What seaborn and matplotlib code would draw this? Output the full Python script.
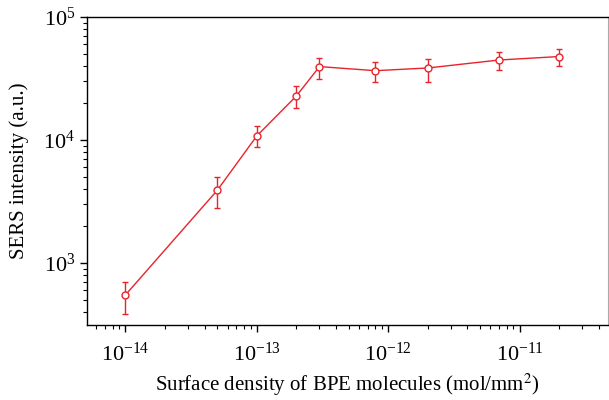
# SERS intensity vs surface density of BPE molecules (log-log)

import matplotlib
matplotlib.use("Agg")
import matplotlib.pyplot as plt
import matplotlib.ticker as mticker
import seaborn as sns
import numpy as np
import pandas as pd

density = [1e-14, 5e-14, 1e-13, 2e-13, 3e-13, 8e-13, 2e-12, 7e-12, 2e-11]
intensity = [550, 3900, 10800, 22800, 39500, 36600, 38500, 44700, 47700]
err_upper = [702, 5000, 13000, 27700, 46400, 43000, 45500, 52200, 55400]
err_lower = [385, 2800, 8700, 18300, 31500, 29600, 29800, 37300, 39800]

x_ticks = [1e-14, 1e-13, 1e-12, 1e-11]
y_ticks = [1e3, 1e4, 1e5]

RED = "#e8232b"


def main():
    sns.set_theme(style="ticks")
    plt.rcParams["font.family"] = ["Liberation Serif", "DejaVu Serif"]
    plt.rcParams["mathtext.fontset"] = "stix"
    plt.rcParams["text.color"] = "black"
    plt.rcParams["axes.labelcolor"] = "black"
    plt.rcParams["xtick.color"] = "black"
    plt.rcParams["ytick.color"] = "black"

    df = pd.DataFrame({"density": density, "intensity": intensity})
    y = np.array(intensity)
    yerr = [y - np.array(err_lower), np.array(err_upper) - y]

    fig = plt.figure(figsize=(6.09, 4.0), dpi=100)
    ax = fig.add_axes([0.143, 0.1875, 0.855, 0.77])

    ax.errorbar(density, intensity, yerr=yerr, fmt="none", ecolor=RED,
                elinewidth=1.0, capsize=2.5, capthick=1.0, zorder=2)
    sns.lineplot(data=df, x="density", y="intensity", ax=ax, color=RED,
                 linewidth=1.0, marker="o", markersize=5,
                 markerfacecolor="white", markeredgecolor=RED,
                 markeredgewidth=1.0, zorder=3)

    ax.set_xscale("log")
    ax.set_yscale("log")
    ax.set_xlim(5.1e-15, 4.7e-11)
    ax.set_ylim(313, 1e5)
    ax.xaxis.set_major_locator(mticker.FixedLocator(x_ticks))
    ax.yaxis.set_major_locator(mticker.FixedLocator(y_ticks))
    ax.xaxis.set_major_formatter(mticker.LogFormatterSciNotation())
    ax.yaxis.set_major_formatter(mticker.LogFormatterSciNotation())
    ax.xaxis.set_minor_formatter(mticker.NullFormatter())
    ax.yaxis.set_minor_formatter(mticker.NullFormatter())

    ax.set_xlabel("Surface density of BPE molecules (mol/mm$^2$)", fontsize=15,
                  labelpad=4)
    ax.set_ylabel("SERS intensity (a.u.)", fontsize=15, labelpad=10)
    ax.tick_params(axis="both", which="major", labelsize=16, length=5,
                   width=1, direction="out", top=False, right=False)
    ax.tick_params(axis="both", which="minor", length=3, width=0.8,
                   direction="out", top=False, right=False)
    ax.tick_params(axis="x", which="major", pad=8)

    for side in ["left", "bottom", "top"]:
        ax.spines[side].set_color("black")
        ax.spines[side].set_linewidth(1.0)
    ax.spines["right"].set_color("#aaaaaa")
    ax.spines["right"].set_linewidth(0.8)

    plt.savefig("out.png", dpi=100)


if __name__ == "__main__":
    main()
